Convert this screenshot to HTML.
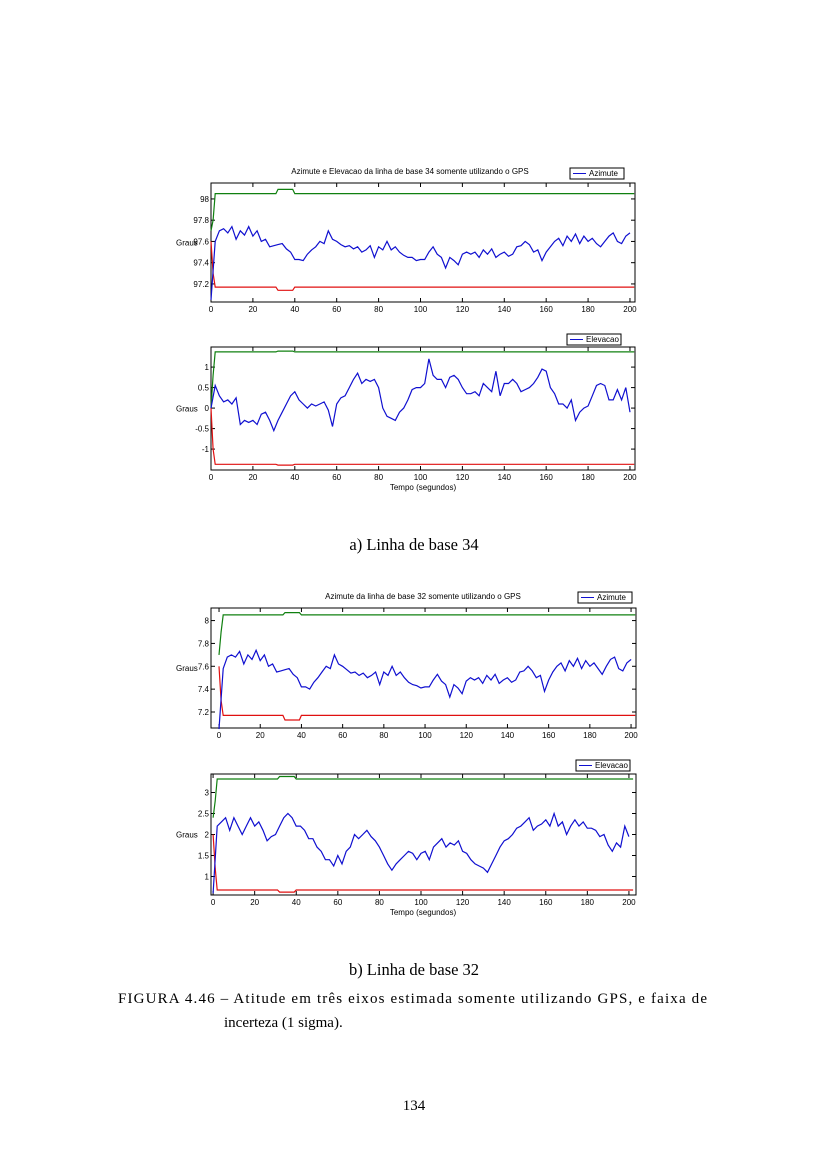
<!DOCTYPE html>
<html><head><meta charset="utf-8">
<style>
html,body{margin:0;padding:0;background:#fff;}
svg{display:block;}
.t{font-family:"Liberation Serif",serif;font-size:15px;fill:#000;}
.c{font-family:"Liberation Serif",serif;font-size:16.5px;fill:#000;}
.s{font-family:"Liberation Sans",sans-serif;font-size:8px;fill:#000;}
</style></head>
<body>
<svg id="page" width="828" height="1169" viewBox="0 0 828 1169" xmlns="http://www.w3.org/2000/svg">
<rect width="828" height="1169" fill="#fff"/>
<g id="charts"></g>
<text class="c" x="414" y="550" text-anchor="middle">a) Linha de base 34</text>
<text class="c" x="414" y="975" text-anchor="middle">b) Linha de base 32</text>
<text class="t" x="118" y="1003" textLength="589" lengthAdjust="spacing">FIGURA 4.46 – Atitude em três eixos estimada somente utilizando GPS, e faixa de</text>
<text class="t" x="224" y="1027">incerteza (1 sigma).</text>
<text class="t" x="414" y="1110" text-anchor="middle">134</text>
</svg>
<script>
// ---- data ----
var times = [];
for (var i = 0; i <= 100; i++) times.push(i * 2);
var az34 = [97.05,97.6,97.7,97.72,97.68,97.74,97.62,97.7,97.66,97.74,97.65,97.7,97.6,97.62,97.55,97.56,97.57,97.58,97.53,97.5,97.43,97.43,97.42,97.48,97.52,97.55,97.6,97.58,97.7,97.62,97.6,97.57,97.55,97.56,97.53,97.55,97.5,97.52,97.56,97.45,97.55,97.52,97.6,97.52,97.55,97.5,97.47,97.45,97.45,97.42,97.43,97.43,97.5,97.55,97.48,97.45,97.35,97.45,97.42,97.38,97.48,97.5,97.48,97.5,97.45,97.52,97.48,97.53,97.45,97.48,97.5,97.46,97.48,97.55,97.56,97.6,97.57,97.5,97.52,97.42,97.5,97.55,97.6,97.63,97.56,97.65,97.6,97.67,97.58,97.65,97.6,97.63,97.58,97.55,97.6,97.65,97.68,97.6,97.58,97.65,97.68];
var el34 = [0.0,0.55,0.3,0.15,0.2,0.1,0.25,-0.4,-0.3,-0.35,-0.3,-0.4,-0.15,-0.1,-0.3,-0.55,-0.3,-0.1,0.1,0.3,0.4,0.2,0.1,0.0,0.1,0.05,0.1,0.15,-0.05,-0.45,0.1,0.25,0.3,0.5,0.7,0.85,0.6,0.7,0.65,0.7,0.5,0.0,-0.2,-0.25,-0.3,-0.1,0.0,0.2,0.45,0.5,0.5,0.6,1.2,0.8,0.7,0.7,0.5,0.75,0.8,0.7,0.5,0.35,0.35,0.4,0.3,0.6,0.5,0.4,0.9,0.3,0.6,0.6,0.7,0.6,0.4,0.45,0.5,0.6,0.75,0.95,0.9,0.5,0.35,0.1,0.1,0.0,0.2,-0.3,-0.1,0.0,0.05,0.3,0.55,0.6,0.55,0.2,0.2,0.45,0.2,0.5,-0.1];
var az32 = [7.05,7.58,7.68,7.7,7.68,7.73,7.62,7.7,7.66,7.74,7.65,7.7,7.6,7.62,7.55,7.56,7.57,7.58,7.53,7.5,7.42,7.42,7.4,7.46,7.5,7.55,7.6,7.58,7.7,7.62,7.6,7.57,7.54,7.55,7.52,7.54,7.5,7.52,7.55,7.44,7.55,7.52,7.6,7.52,7.55,7.5,7.46,7.44,7.43,7.41,7.42,7.42,7.48,7.53,7.47,7.44,7.33,7.44,7.41,7.36,7.47,7.5,7.48,7.5,7.45,7.52,7.48,7.53,7.45,7.48,7.5,7.46,7.48,7.55,7.56,7.6,7.56,7.5,7.52,7.38,7.48,7.55,7.6,7.63,7.56,7.65,7.6,7.67,7.58,7.65,7.6,7.63,7.58,7.53,7.6,7.66,7.68,7.58,7.56,7.63,7.66];
var el32 = [0.6,2.2,2.3,2.4,2.1,2.4,2.2,2.0,2.2,2.4,2.2,2.3,2.1,1.85,1.95,2.0,2.2,2.4,2.5,2.4,2.2,2.2,2.1,1.9,1.9,1.7,1.6,1.4,1.4,1.25,1.5,1.3,1.6,1.7,2.0,1.9,2.0,2.1,1.95,1.85,1.7,1.5,1.3,1.15,1.3,1.4,1.5,1.6,1.55,1.4,1.55,1.6,1.4,1.7,1.8,1.9,1.7,1.8,1.75,1.85,1.6,1.55,1.4,1.3,1.25,1.2,1.1,1.3,1.5,1.7,1.85,1.9,2.0,2.15,2.2,2.3,2.4,2.1,2.2,2.25,2.35,2.2,2.5,2.2,2.3,2.0,2.2,2.35,2.2,2.3,2.15,2.15,2.1,1.95,2.0,1.75,1.6,1.8,1.7,2.2,1.95];
var bandTimes = [0,1,2,31,32,39,40,202];
var up34 = [97.7,97.8,98.05,98.05,98.09,98.09,98.05,98.05];
var lo34 = [97.6,97.3,97.17,97.17,97.14,97.14,97.17,97.17];
var upEl34 = [0.0,0.8,1.37,1.37,1.39,1.39,1.37,1.37];
var loEl34 = [0.0,-1.0,-1.37,-1.37,-1.39,-1.39,-1.37,-1.37];
var up32 = [7.7,7.9,8.05,8.05,8.07,8.07,8.05,8.05];
var lo32 = [7.6,7.3,7.17,7.17,7.13,7.13,7.17,7.17];
var upEl32 = [2.4,2.8,3.32,3.32,3.38,3.38,3.32,3.32];
var loEl32 = [2.0,1.2,0.68,0.68,0.63,0.63,0.68,0.68];
var xTicks = [0,20,40,60,80,100,120,140,160,180,200];
var yTicksAz34 = [97.2,97.4,97.6,97.8,98];
var yTicksEl34 = [-1,-0.5,0,0.5,1];
var yTicksAz32 = [7.2,7.4,7.6,7.8,8];
var yTicksEl32 = [1,1.5,2,2.5,3];

var NS = "http://www.w3.org/2000/svg";
var root = document.getElementById('charts');
function mk(tag, attrs, parent) {
  var e = document.createElementNS(NS, tag);
  for (var k in attrs) e.setAttribute(k, attrs[k]);
  parent.appendChild(e);
  return e;
}
function chart(c) {
  var g = mk('g', {}, root);
  
  
  function sx(v) { return c.x0 + (v - c.xmin) / (c.xmax - c.xmin) * (c.x1 - c.x0); }
  function sy(v) { return c.y1 - (v - c.ymin) / (c.ymax - c.ymin) * (c.y1 - c.y0); }
  var box = mk('rect', {x: c.x0, y: c.y0, width: c.x1 - c.x0, height: c.y1 - c.y0, fill: 'none', stroke: '#000', 'stroke-width': 1}, g);
  
  
  xTicks.forEach(function (t) {
    var x = sx(t);
    mk('line', {x1: x, y1: c.y1, x2: x, y2: c.y1 - 4, stroke: '#000'}, g);
    mk('line', {x1: x, y1: c.y0, x2: x, y2: c.y0 + 4, stroke: '#000'}, g);
    var tx = mk('text', {x: x, y: c.y1 + 10, 'text-anchor': 'middle', 'class': 's'}, g);
    tx.textContent = t;
    
    
  });
  c.yt.forEach(function (t) {
    var y = sy(t);
    mk('line', {x1: c.x0, y1: y, x2: c.x0 + 4, y2: y, stroke: '#000'}, g);
    mk('line', {x1: c.x1, y1: y, x2: c.x1 - 4, y2: y, stroke: '#000'}, g);
    var ty = mk('text', {x: c.x0 - 2, y: y + 3, 'text-anchor': 'end', 'class': 's'}, g);
    ty.textContent = t;
    
    
  });
  function line(xs, ys, col, nm) {
    var d = '';
    for (var i = 0; i < xs.length; i++) d += (i ? 'L' : 'M') + sx(xs[i]).toFixed(1) + ' ' + sy(ys[i]).toFixed(1);
    var p = mk('path', {d: d, fill: 'none', stroke: col, 'stroke-width': 1.2}, g);
    
    
  }
  line(bandTimes, c.up, '#108010', 'upper-sigma-line');
  line(bandTimes, c.lo, '#e01010', 'lower-sigma-line');
  line(times, c.data, '#1010d0', 'estimate-line');
  var gl = mk('text', {x: 176, y: (c.y0 + c.y1) / 2 + 3, 'class': 's'}, g);
  gl.textContent = 'Graus';
  
  
  if (c.title) {
    var tt = mk('text', {x: c.titleX, y: c.y0 - 9, 'text-anchor': 'middle', 'class': 's', 'font-size': '7.5'}, g);
    tt.textContent = c.title;
    
    
  }
  if (c.xlabel) {
    var xl = mk('text', {x: 423, y: c.y1 + 20, 'text-anchor': 'middle', 'class': 's'}, g);
    xl.textContent = c.xlabel;
    
    
  }
  var lg = mk('g', {}, g);
  
  
  mk('rect', {x: c.lx, y: c.ly, width: 54, height: 11, fill: '#fff', stroke: '#000'}, lg);
  mk('line', {x1: c.lx + 3, y1: c.ly + 5.5, x2: c.lx + 16, y2: c.ly + 5.5, stroke: '#1010d0'}, lg);
  var lt = mk('text', {x: c.lx + 19, y: c.ly + 8, 'class': 's', 'font-size': '7'}, lg);
  lt.textContent = c.leg;
  
  
}
chart({name:'chart-azimute-34', x0:211, x1:635, y0:183, y1:302, xmin:0, xmax:202.4, ymin:97.03, ymax:98.15, yt:yTicksAz34, data:az34, up:up34, lo:lo34, title:'Azimute e Elevacao da linha de base 34 somente utilizando o GPS', titleX:410, leg:'Azimute', lx:570, ly:168});
chart({name:'chart-elevacao-34', x0:211, x1:635, y0:347, y1:470, xmin:0, xmax:202.4, ymin:-1.51, ymax:1.49, yt:yTicksEl34, data:el34, up:upEl34, lo:loEl34, xlabel:'Tempo (segundos)', leg:'Elevacao', lx:567, ly:334});
chart({name:'chart-azimute-32', x0:211, x1:636, y0:608, y1:728, xmin:-3.9, xmax:202.4, ymin:7.06, ymax:8.11, yt:yTicksAz32, data:az32, up:up32, lo:lo32, title:'Azimute da linha de base 32 somente utilizando o GPS', titleX:423, leg:'Azimute', lx:578, ly:592});
chart({name:'chart-elevacao-32', x0:211, x1:636, y0:774, y1:895, xmin:-1, xmax:203.4, ymin:0.56, ymax:3.44, yt:yTicksEl32, data:el32, up:upEl32, lo:loEl32, xlabel:'Tempo (segundos)', leg:'Elevacao', lx:576, ly:760});
</script>
</body></html>
